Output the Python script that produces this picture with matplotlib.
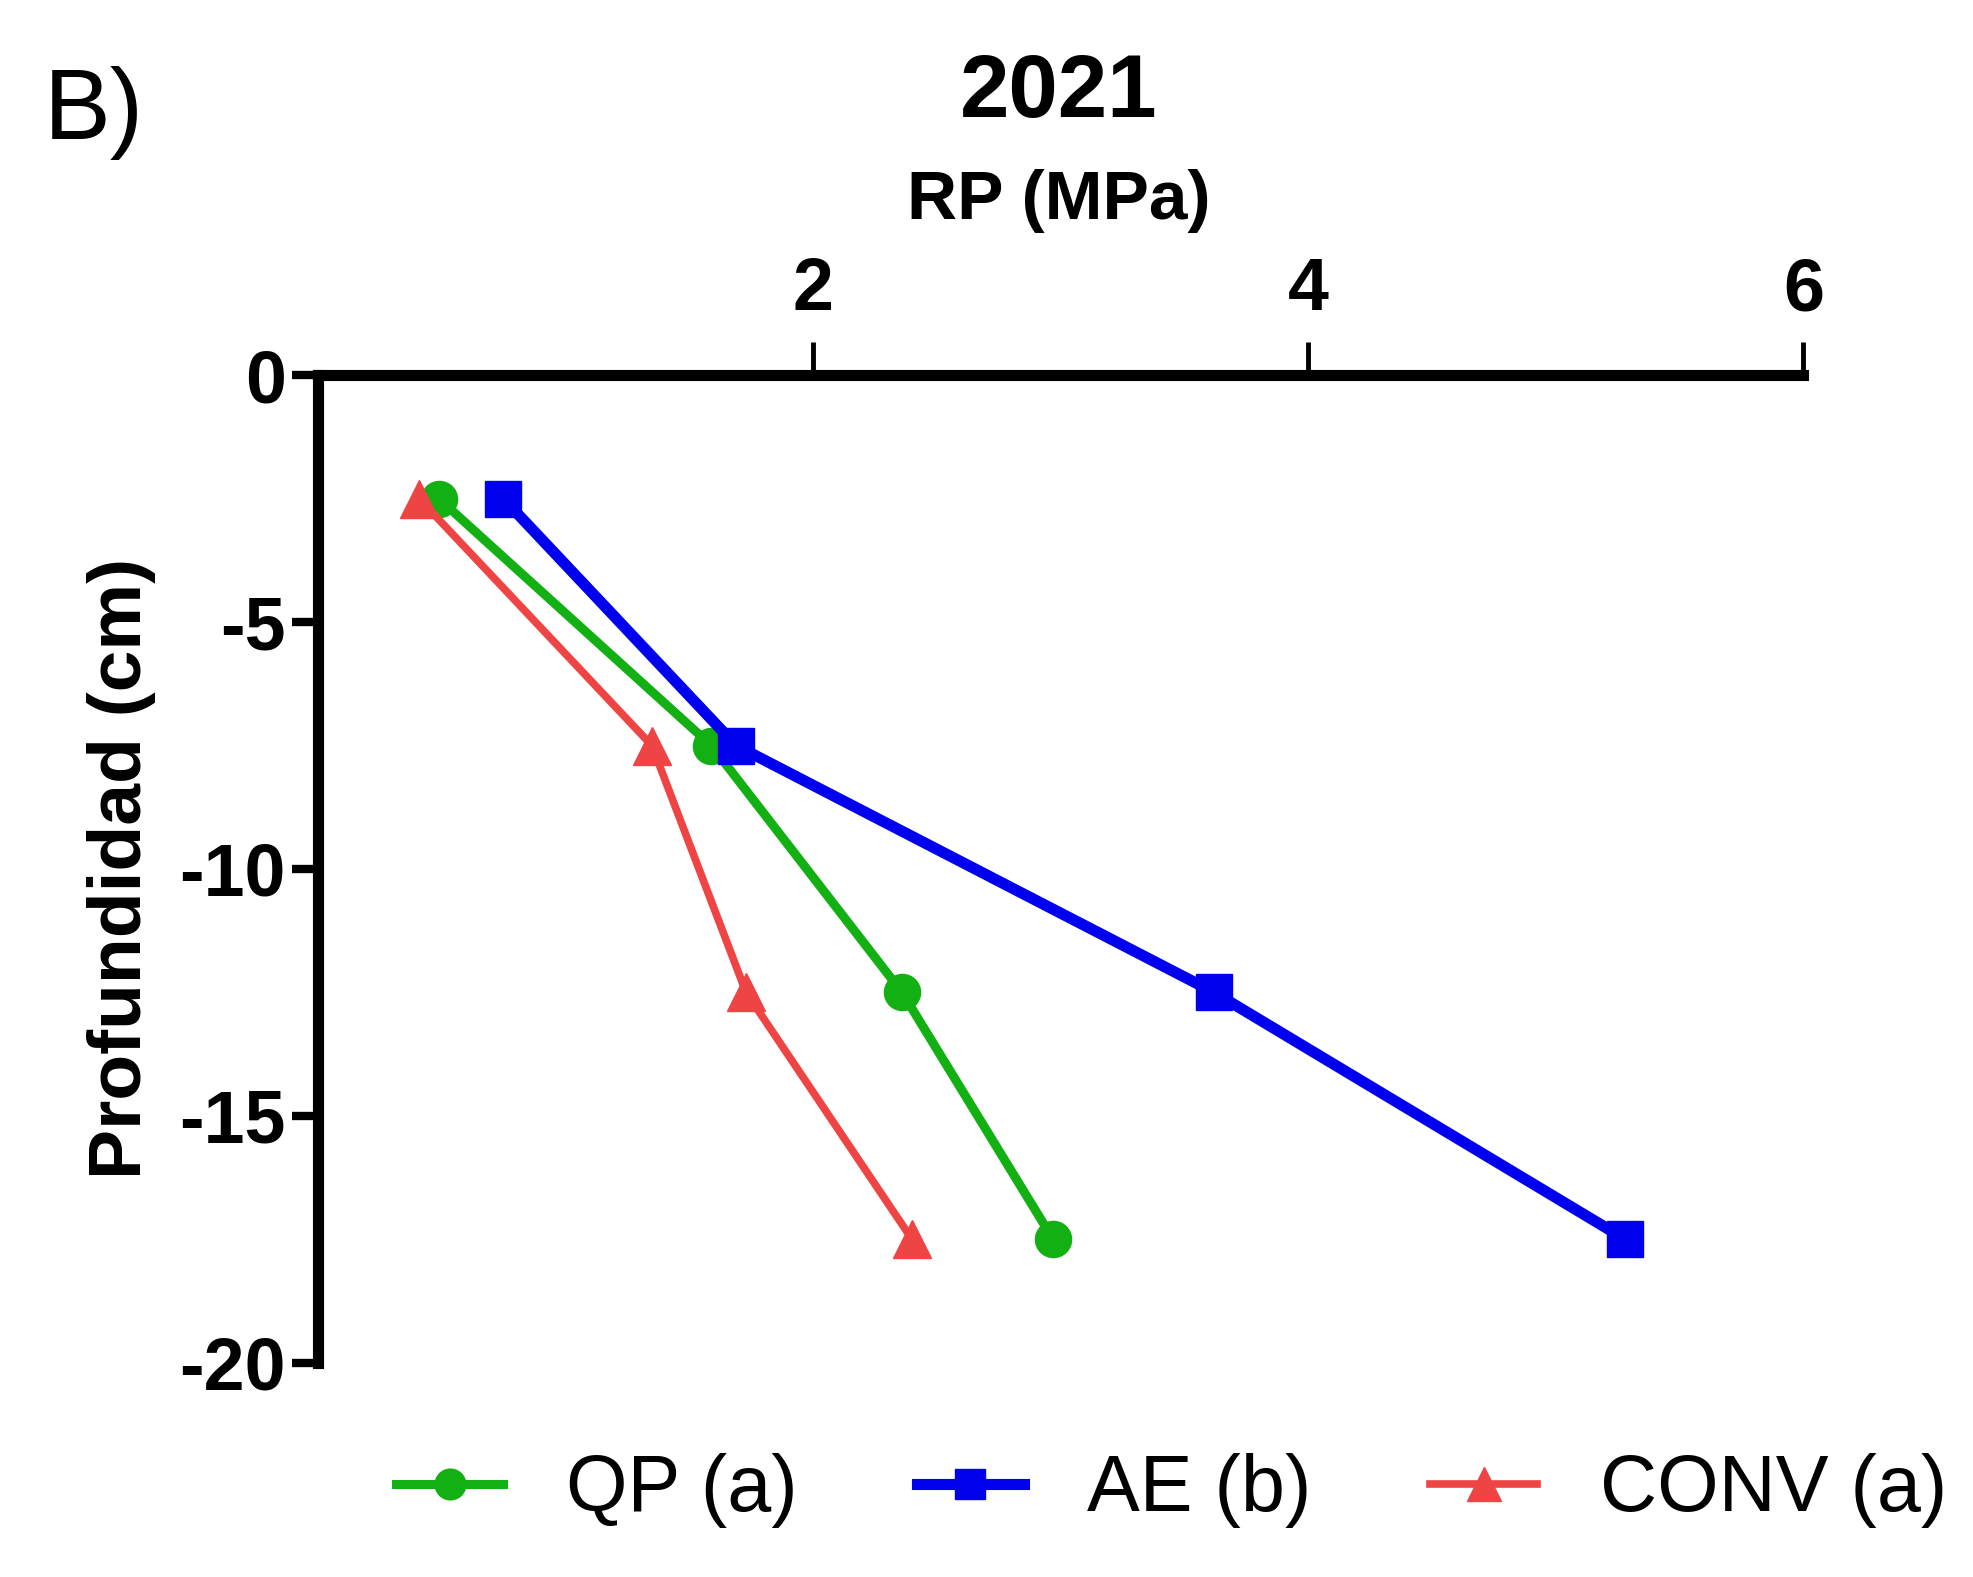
import numpy as np
import matplotlib.pyplot as plt

plt.rcParams['font.family'] = ['Liberation Sans', 'DejaVu Sans']
plt.rcParams['axes.unicode_minus'] = False

# profundidad (cm) y resistencia a la penetracion (MPa)
depth = [-2.5, -7.5, -12.5, -17.5]
rp_qp = [0.49, 1.59, 2.36, 2.97]
rp_ae = [0.75, 1.69, 3.62, 5.28]
rp_conv = [0.41, 1.35, 1.73, 2.40]
labels = ["QP (a)", "AE (b)", "CONV (a)"]
xticks = [2, 4, 6]
yticks = [0, -5, -10, -15, -20]

fig = plt.figure(figsize=(19.73, 15.77), dpi=100)
ax = fig.add_axes([0.161, 0.136, 0.753, 0.626])

ax.plot(rp_qp, depth, color="#12B012", lw=6.5, marker="o", ms=26, label=labels[0])
ax.plot(rp_ae, depth, color="#0000EE", lw=8, marker="s", ms=26, label=labels[1])
ax.plot(rp_conv, depth, color="#EE4444", lw=5.5, marker="^", ms=28, label=labels[2])

ax.set_xlim(0, 6)
ax.set_ylim(-20, 0)
ax.xaxis.tick_top()
ax.set_xticks(xticks)
ax.set_yticks(yticks)
for s in ["right", "bottom"]:
    ax.spines[s].set_visible(False)
for s in ["top", "left"]:
    ax.spines[s].set_linewidth(8)
ax.tick_params(axis="x", length=24, width=3.5, pad=12, labelsize=53)
ax.tick_params(axis="y", length=19, width=6, pad=4, labelsize=53)
for t in ax.get_xticklabels() + ax.get_yticklabels():
    t.set_fontweight("bold")

fig.text(0.5365, 1 - 94 / 1577, "2021", ha="center", va="center", fontsize=64, fontweight="bold")
fig.text(0.5365, 1 - 201 / 1577, "RP (MPa)", ha="center", va="center", fontsize=50, fontweight="bold")
fig.text(122 / 1973, 1 - 868 / 1577, "Profundidad (cm)", ha="center", va="center",
         rotation=90, fontsize=54, fontweight="bold")
fig.text(44 / 1973, 1 - 113 / 1577, "B)", ha="left", va="center", fontsize=72)

fig.legend(loc="center", bbox_to_anchor=(0.594, 1 - 1491 / 1577), ncol=3, frameon=False,
           fontsize=57, handlelength=1.35, handletextpad=0.8, columnspacing=1.5, markerscale=0.85)

fig.savefig("out.png", dpi=100)
